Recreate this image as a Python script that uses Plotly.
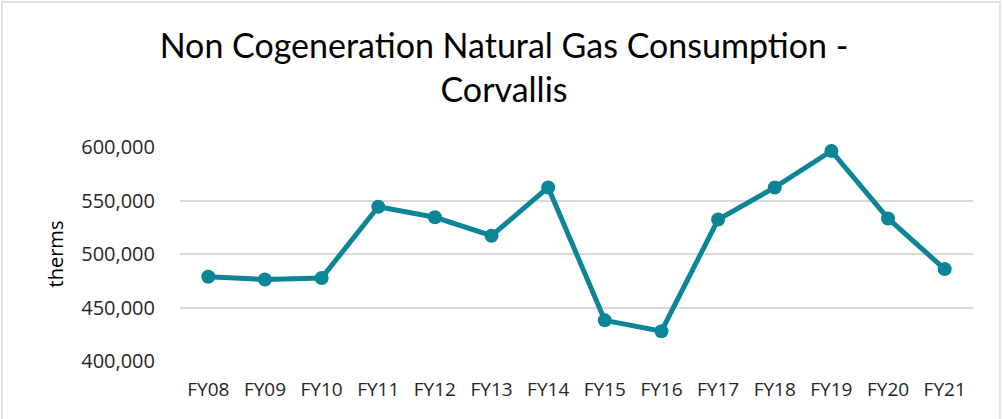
import plotly.graph_objects as go

years = ["FY08", "FY09", "FY10", "FY11", "FY12", "FY13", "FY14",
         "FY15", "FY16", "FY17", "FY18", "FY19", "FY20", "FY21"]
therms = [478700, 476200, 477500, 544200, 534300, 517100, 562200,
          438000, 427800, 532200, 562200, 596300, 533200, 485900]
y_ticks = [400000, 450000, 500000, 550000, 600000]
y_tick_text = ["400,000", "450,000", "500,000", "550,000", "600,000"]

color = "#0C8596"

fig = go.Figure()
fig.add_trace(go.Scatter(
    x=years, y=therms, mode="lines+markers",
    line=dict(color=color, width=5),
    marker=dict(color=color, size=14),
    cliponaxis=False,
    hoverinfo="x+y", showlegend=False,
))

pw = 793.0
ph = 214.0
fig.update_layout(
    width=1002, height=419,
    margin=dict(l=180, r=29, t=147, b=58),
    paper_bgcolor="white", plot_bgcolor="white",
    title=dict(
        text="Non Cogeneration Natural Gas Consumption -<br>Corvallis",
        x=0.503, xanchor="center", y=0.862, yanchor="top",
        font=dict(family="Lato", size=34, color="#000000"),
    ),
    xaxis=dict(
        type="category", range=[-0.5, 13.5],
        showgrid=False, showline=False, zeroline=False,
        ticks="", tickfont=dict(family="Open Sans", size=19, color="#262626"),
        ticklabelstandoff=15,
    ),
    yaxis=dict(
        range=[400000, 600000], tickvals=y_ticks, ticktext=y_tick_text,
        showgrid=True, gridcolor="#d9d9d9", gridwidth=1.5,
        zeroline=False, showline=False, ticks="",
        tickfont=dict(family="Open Sans", size=20, color="#262626"),
        ticklabelstandoff=24,
        title=dict(text="therms", font=dict(family="Open Sans", size=20, color="#000000"), standoff=12),
    ),
    shapes=[dict(type="rect", xref="paper", yref="paper",
                 x0=(2 - 180) / pw, x1=(1000 - 180) / pw,
                 y0=(361 - 425) / ph, y1=(361 - 2) / ph,
                 line=dict(color="#d9d9d9", width=1.5), fillcolor="rgba(0,0,0,0)", layer="below")],
)

fig.write_html("out.html", config={"displayModeBar": False},
               post_script="document.body.style.margin='0px';")
